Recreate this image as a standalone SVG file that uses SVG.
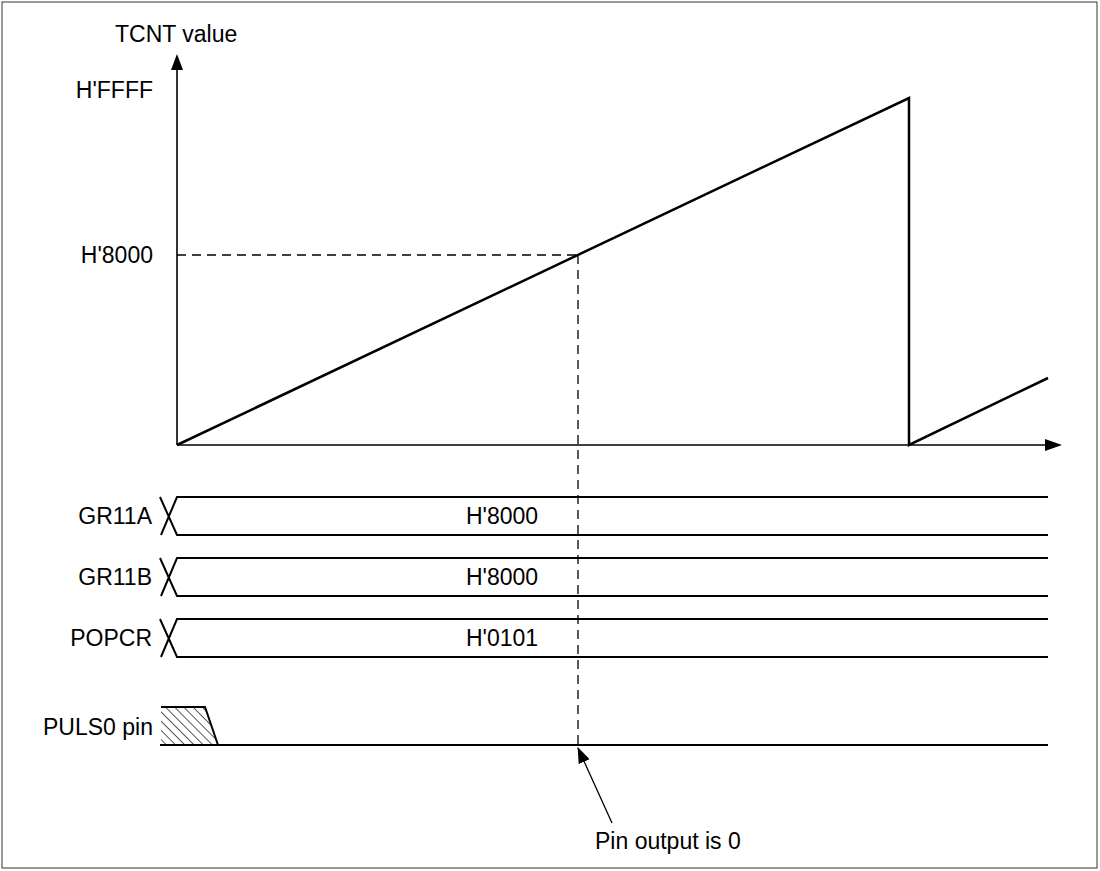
<svg xmlns="http://www.w3.org/2000/svg" width="1100" height="871" viewBox="0 0 1100 871">
<defs>
<style>
text{font-family:"Liberation Sans",Arial,sans-serif;font-size:23px;fill:#000}
.ax{stroke:#000;stroke-width:1.6;fill:none}
.thick{stroke:#000;stroke-width:2.5;fill:none}
.bus{stroke:#000;stroke-width:2;fill:none}
.dash{stroke:#000;stroke-width:1.3;fill:none;stroke-dasharray:9,6}
.lbl{text-anchor:end}
.mid{text-anchor:middle}
</style>
<pattern id="hatch" patternUnits="userSpaceOnUse" width="6.5" height="6.5" patternTransform="rotate(-45)">
<line x1="0" y1="0" x2="0" y2="6.5" stroke="#000" stroke-width="1.3"/>
</pattern>
<marker id="ah" markerWidth="16" markerHeight="12" refX="15" refY="6" orient="auto" markerUnits="userSpaceOnUse">
<path d="M0,0 L16,6 L0,12 Z" fill="#000"/>
</marker>
</defs>
<rect x="2" y="2" width="1095" height="866" fill="#fff" stroke="#333" stroke-width="1"/>

<g id="axes">
<line class="ax" x1="177" y1="445" x2="177" y2="66"/>
<path d="M177,54 L171,70 L183,70 Z" fill="#000"/>
<line class="ax" x1="177" y1="445" x2="1048" y2="445"/>
<path d="M1062,445 L1045,439 L1045,451 Z" fill="#000"/>
<text x="115" y="42">TCNT value</text>
<text class="lbl" x="153" y="98">H'FFFF</text>
<text class="lbl" x="153" y="263">H'8000</text>
</g>

<g id="tcnt-ramp">
<polyline class="thick" points="177,445 909,98 909,445 1048,378"/>
</g>

<g id="connectors">
<line class="dash" x1="177" y1="255" x2="578" y2="255"/>
<line class="dash" x1="578" y1="255" x2="578" y2="745"/>
<line stroke="#000" stroke-width="1.3" x1="612" y1="823" x2="578" y2="748" marker-end="url(#ah)"/>
</g>

<g id="gr11a">
<text class="lbl" x="152" y="524">GR11A</text>
<path class="bus" d="M160,497 L177,535 L1048,535 M161,535 L177,497 L1048,497"/>
<text class="mid" x="502" y="524">H'8000</text>
</g>

<g id="gr11b">
<text class="lbl" x="152" y="585">GR11B</text>
<path class="bus" d="M160,558 L177,596 L1048,596 M161,596 L177,558 L1048,558"/>
<text class="mid" x="502" y="585">H'8000</text>
</g>

<g id="popcr">
<text class="lbl" x="152" y="646">POPCR</text>
<path class="bus" d="M160,619 L177,657 L1048,657 M161,657 L177,619 L1048,619"/>
<text class="mid" x="502" y="646">H'0101</text>
</g>

<g id="puls0">
<text class="lbl" x="153" y="735">PULS0 pin</text>
<path d="M161,707 L205,707 L218,745 L161,745 Z" fill="url(#hatch)"/>
<path class="bus" d="M161,707 L205,707 L218,745"/>
<line class="bus" x1="160" y1="745" x2="1048" y2="745"/>
</g>

<g id="note">
<text x="595" y="849">Pin output is 0</text>
</g>
</svg>
